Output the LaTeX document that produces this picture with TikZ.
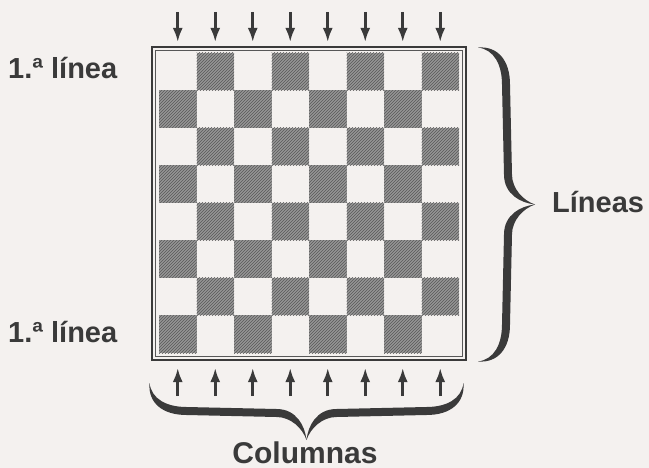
\documentclass[tikz,border=0pt]{standalone}
\usepackage{fontspec}
\setmainfont{Liberation Sans}
\usetikzlibrary{arrows.meta,patterns}

\definecolor{papel}{RGB}{244,241,239}
\definecolor{tinta}{RGB}{58,58,58}
\definecolor{casilla}{RGB}{150,150,150}

\begin{document}
\begin{tikzpicture}[
  x=1pt, y=-1pt,
  every node/.style={font=\bfseries\fontsize{29}{31}\selectfont, text=tinta, inner sep=0pt},
  flecha/.style={-{Latex[length=14pt,width=10pt]}, line width=2.6pt, draw=tinta, fill=tinta},
  oscura/.style={fill=casilla, postaction={pattern=north east lines, pattern color=tinta!85}},
  llave/.pic={
    \fill[tinta] (0,157) .. controls (20,158.5) and (32,144) .. (32,120) -- (34,30)
      .. controls (34,16) and (45,4) .. (57,0)
      .. controls (45,-4) and (34,-16) .. (34,-30) -- (32,-120)
      .. controls (32,-144) and (20,-158.5) .. (0,-157)
      .. controls (16,-155) and (24,-140) .. (24,-120) -- (26,-30)
      .. controls (26,-10) and (43,-1.5) .. (57,0)
      .. controls (43,1.5) and (26,10) .. (26,30) -- (24,120)
      .. controls (24,140) and (16,155) .. (0,157) -- cycle;
  }
]

% Fondo
\useasboundingbox (0,0) rectangle (649,468);
\fill[papel] (0,0) rectangle (649,468);

% Tablero: casillas 8x8
\foreach \f in {0,...,7}{
  \foreach \c in {0,...,7}{
    \pgfmathtruncatemacro{\paridad}{mod(\f+\c,2)}
    \ifnum\paridad=1
      \path[oscura] (159+37.5*\c,53+37.5*\f) rectangle ++(37.5,37.5);
    \fi
  }
}

% Marco doble
\draw[tinta, line width=2.2pt] (152,47) rectangle (466,360);
\draw[tinta!85, line width=1pt] (155.5,50.5) rectangle (462.5,356.5);

% Flechas de las columnas
\foreach \c in {0,...,7}{
  \coordinate (sup\c) at (177.75+37.5*\c,12);
  \coordinate (supfin\c) at (177.75+37.5*\c,42);
  \coordinate (inf\c) at (177.75+37.5*\c,396);
  \coordinate (inffin\c) at (177.75+37.5*\c,368);
  \draw[flecha] (sup\c) -- (supfin\c);
  \draw[flecha] (inf\c) -- (inffin\c);
}

% Llaves
\pic at (478,204.5) {llave};
\pic[rotate=-90] at (306.5,383) {llave};

% Textos
\node[anchor=base west] (linea1) at (8,79) {1.ª línea};
\node[anchor=base west] (linea8) at (8,342) {1.ª línea};
\node[anchor=base west] (lineas) at (552,213) {Líneas};
\node[anchor=base, font=\bfseries\fontsize{30}{32}\selectfont] (columnas) at (305,463) {Columnas};

\end{tikzpicture}
\end{document}
